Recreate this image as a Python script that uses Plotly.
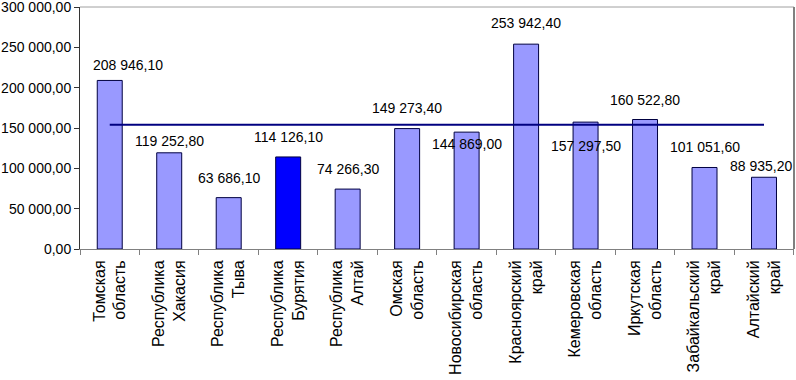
import plotly.graph_objects as go

regions = ["Томская<br>область", "Республика<br>Хакасия", "Республика<br>Тыва",
           "Республика<br>Бурятия", "Республика<br>Алтай", "Омская<br>область",
           "Новосибирская<br>область", "Красноярский<br>край", "Кемеровская<br>область",
           "Иркутская<br>область", "Забайкальский<br>край", "Алтайский<br>край"]
values = [208946.10, 119252.80, 63686.10, 114126.10, 74266.30, 149273.40,
          144869.00, 253942.40, 157297.50, 160522.80, 101051.60, 88935.20]
average_value = 154000
highlight = "Республика<br>Бурятия"
y_ticks = [0, 50000, 100000, 150000, 200000, 250000, 300000]

def fmt(v):
    s = f"{v:,.2f}"
    return s.replace(",", " ").replace(".", ",")

# label placement (pixel offsets relative to bar top)
label_dy = [15, 12, 20, 20, 20, 21, -12, 21, -24, 20, 20, 11]
label_dx = [18, 0, 0, 0, 0, 0, 0, 0, 0, 0, 0, -3]

colors = ["#0000FF" if r == highlight else "#9999FF" for r in regions]
FONT = "Liberation Sans, Arial, sans-serif"

fig = go.Figure()
fig.add_trace(go.Bar(x=regions, y=values, width=0.42,
                     marker=dict(color=colors, line=dict(color="#000040", width=1)),
                     hoverinfo="x+y"))
fig.add_trace(go.Scatter(x=regions, y=[average_value] * len(regions), mode="lines",
                         line=dict(color="#000080", width=2)))

for r, v, dy, dx in zip(regions, values, label_dy, label_dx):
    fig.add_annotation(x=r, y=v, text=fmt(v), showarrow=False, yanchor="middle",
                       xanchor="center", yshift=dy, xshift=dx,
                       font=dict(family=FONT, size=14, color="black"))

fig.update_layout(
    width=796, height=380,
    margin=dict(l=80, r=2, t=7, b=131),
    paper_bgcolor="white", plot_bgcolor="white",
    showlegend=False, bargap=0.58,
    font=dict(family=FONT, size=14, color="black"),
)
fig.update_yaxes(range=[0, 300000], tickvals=y_ticks, ticktext=[fmt(v) for v in y_ticks],
                 showgrid=False, zeroline=False, showline=True, linecolor="#333333",
                 linewidth=1, ticks="outside", ticklen=5, tickcolor="#333333",
                 automargin=False, ticklabeloverflow="allow",
                 tickfont=dict(family=FONT, size=14, color="black"))
fig.update_xaxes(showgrid=False, showline=True, linecolor="#808080", linewidth=1,
                 ticks="outside", tickson="boundaries", ticklen=5, tickcolor="#808080",
                 automargin=False, tickangle=-90, ticklabelstandoff=4,
                 tickfont=dict(family=FONT, size=16, color="black"))

fig.add_shape(type="line", xref="paper", yref="paper", x0=0, x1=1, y0=1, y1=1,
              line=dict(color="#a0a0a0", width=1))
fig.add_shape(type="line", xref="paper", yref="paper", x0=1, x1=1, y0=0, y1=1,
              line=dict(color="#808080", width=2))

fig.write_html("out.html", config={"displayModeBar": False},
               post_script="document.body.style.margin='0';document.body.style.overflow='hidden';")
